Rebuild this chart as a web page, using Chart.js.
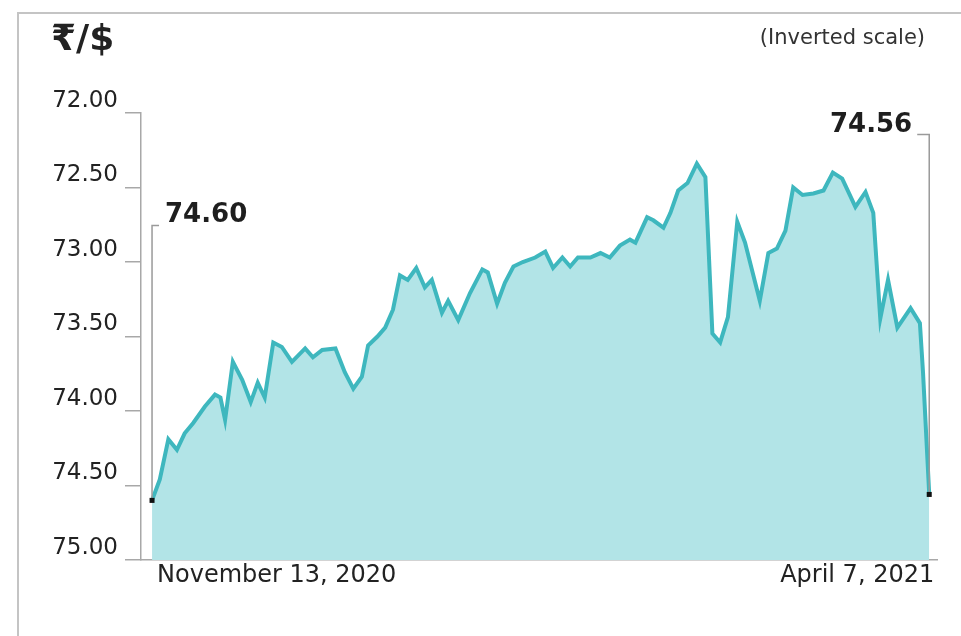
<!DOCTYPE html>
<html>
<head>
<meta charset="utf-8">
<script src="https://cdn.jsdelivr.net/npm/chart.js@4"></script>
<style>
  html,body{margin:0;padding:0;background:#fff;width:961px;height:636px;overflow:hidden;}
  #frame{position:absolute;left:17px;top:12px;width:960px;height:640px;border-left:2px solid #c4c4c4;border-top:2px solid #c4c4c4;box-sizing:border-box;}
  #wrap{position:absolute;left:0;top:0;width:961px;height:636px;}
  .txt{position:absolute;font-family:"DejaVu Sans",sans-serif;color:#222;white-space:nowrap;line-height:1;}
  #title{left:51px;top:20px;font-size:36px;font-weight:700;}
  #note{right:36px;top:27px;font-size:21px;color:#333;}
  .ann{font-size:26px;font-weight:700;color:#1e1e1e;}
  #annEnd{transform:translateX(-100%);}
</style>
</head>
<body>
<div id="frame"></div>
<div id="wrap"><canvas id="c" width="961" height="636"></canvas></div>
<div id="title" class="txt">₹/$</div>
<div id="note" class="txt">(Inverted scale)</div>
<div id="annStart" class="txt ann">74.60</div>
<div id="annEnd" class="txt ann">74.56</div>
<script>
// ---- data (trading-session index vs. rupees per dollar, inverted scale) ----
const sessions = [0,1.0,2.1,3.2,4.2,5.3,6.8,8.1,8.8,9.4,10.4,11.6,12.7,13.6,14.5,15.6,16.7,18.0,19.7,20.7,21.9,23.6,24.8,25.9,27.0,27.8,29.0,30.0,31.0,31.9,32.9,34.0,35.1,36.0,37.3,38.1,39.4,40.9,42.5,43.2,44.4,45.4,46.5,47.7,49.3,50.6,51.6,52.8,53.8,54.8,56.4,57.7,58.9,60.2,61.5,62.2,63.7,64.5,65.8,66.7,67.7,68.9,70.1,71.2,72.1,73.1,74.1,75.3,76.3,78.2,79.3,80.4,81.5,82.5,83.7,85.1,86.4,87.6,88.8,90.5,91.8,92.8,93.7,94.7,95.9,97.6,98.8,99.2,100];
const rates = [74.60,74.46,74.19,74.26,74.15,74.08,73.97,73.89,73.91,74.06,73.67,73.79,73.94,73.81,73.91,73.54,73.57,73.67,73.58,73.64,73.59,73.58,73.74,73.85,73.77,73.56,73.50,73.44,73.32,73.09,73.12,73.04,73.17,73.12,73.34,73.26,73.39,73.21,73.05,73.07,73.28,73.14,73.03,73.00,72.97,72.93,73.04,72.97,73.03,72.97,72.97,72.94,72.97,72.89,72.85,72.87,72.70,72.72,72.77,72.67,72.52,72.47,72.34,72.43,73.48,73.54,73.37,72.73,72.87,73.26,72.94,72.91,72.79,72.50,72.55,72.54,72.52,72.40,72.44,72.63,72.53,72.67,73.38,73.12,73.44,73.31,73.41,73.74,74.56];
const yTicks = [72.0,72.5,73.0,73.5,74.0,74.5,75.0];
const xTickValues = [0,100];
const xTickLabels = ['November 13, 2020','April 7, 2021'];

const lastIdx = rates.length - 1;

const leaders = {
  id:'leaders',
  afterDatasetsDraw(chart){
    const ctx = chart.ctx, xs = chart.scales.x, ys = chart.scales.y;
    const x0 = xs.getPixelForValue(sessions[0]), y0 = ys.getPixelForValue(rates[0]);
    const x1 = xs.getPixelForValue(sessions[lastIdx]), y1 = ys.getPixelForValue(rates[lastIdx]);
    ctx.save();
    ctx.strokeStyle = '#9a9a9a'; ctx.lineWidth = 1.5;
    const t0 = y0 - 275, t1 = y1 - 360;
    ctx.beginPath();
    ctx.moveTo(x0+7, t0); ctx.lineTo(x0, t0); ctx.lineTo(x0, y0);
    ctx.moveTo(x1-12, t1); ctx.lineTo(x1, t1); ctx.lineTo(x1, y1);
    ctx.stroke();
    ctx.fillStyle = '#111';
    ctx.fillRect(x0-2.5, y0-2.5, 5, 5);
    ctx.fillRect(x1-2.5, y1-2.5, 5, 5);
    ctx.restore();
    const a = document.getElementById('annStart');
    a.style.left = (x0 + 13) + 'px'; a.style.top = (t0 - 25) + 'px';
    const b = document.getElementById('annEnd');
    b.style.left = (x1 - 17) + 'px'; b.style.top = (t1 - 24) + 'px';
  }
};

const yFont = {family:'"DejaVu Sans",sans-serif', size:23};
const xFont = {family:'"DejaVu Sans",sans-serif', size:24};

new Chart(document.getElementById('c'), {
  type:'line',
  data:{
    datasets:[{
      data: sessions.map((s,i)=>({x:s, y:rates[i]})),
      borderColor:'rgb(62,183,190)',
      backgroundColor:'rgb(178,228,231)',
      borderWidth:4,
      pointRadius:0,
      tension:0,
      fill:{value:75}
    }]
  },
  options:{
    responsive:false,
    animation:false,
    events:[],
    layout:{padding:{left:0, top:113, right:24, bottom:0}},
    plugins:{legend:{display:false}, tooltip:{enabled:false}},
    scales:{
      x:{
        type:'linear', min:-1.42, max:101.0,
        afterBuildTicks(s){ s.ticks = xTickValues.map(v=>({value:v})); },
        afterFit(s){ s.height = 76; },
        grid:{display:false, drawTicks:false},
        border:{display:true, color:'#a8a8a8', width:1.5},
        ticks:{
          autoSkip:false, maxRotation:0, align:'inner', padding:1, labelOffset:5,
          color:'#222', font:xFont,
          callback(v){ const i = xTickValues.indexOf(v); return i>=0 ? xTickLabels[i] : ''; }
        }
      },
      y:{
        type:'linear', min:72, max:75, reverse:true,
        afterBuildTicks(s){ s.ticks = yTicks.map(v=>({value:v})); },
        afterFit(s){ s.width = 141; },
        grid:{drawOnChartArea:false, drawTicks:true, tickLength:16, color:'#a8a8a8', lineWidth:1.5},
        border:{display:true, color:'#a8a8a8', width:1.5},
        ticks:{
          padding:7, labelOffset:-12,
          color:'#222', font:yFont,
          callback(v){ return Number(v).toFixed(2); }
        }
      }
    }
  },
  plugins:[leaders]
});
</script>
</body>
</html>
